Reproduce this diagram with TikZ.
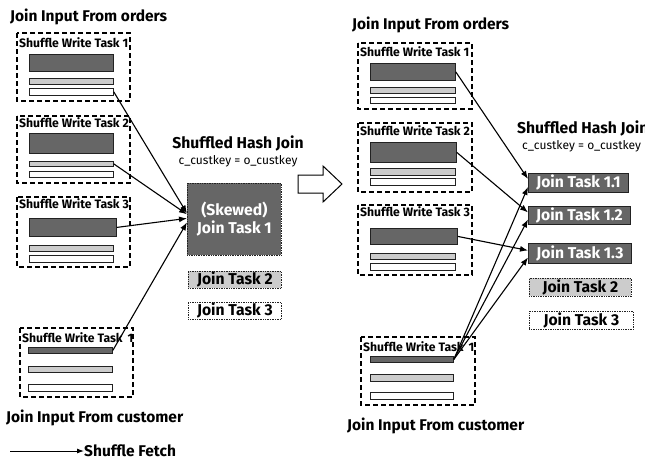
\documentclass[tikz,border=0pt]{standalone}
\usepackage{fontspec}
\setmainfont{Fira Sans}
\usetikzlibrary{arrows.meta,calc}
\definecolor{darkbar}{HTML}{666666}
\definecolor{lightbar}{HTML}{CCCCCC}
\definecolor{edge}{HTML}{222222}
\tikzset{
  title/.style={font=\fontsize{15.5}{18}\selectfont\bfseries, inner sep=0pt, anchor=west},
  boxlabel/.style={font=\fontsize{12.2}{14}\selectfont\bfseries, inner sep=0pt, anchor=west},
  taskbox/.style={draw=black, line width=1.4pt, dash pattern=on 5pt off 3pt},
  bar/.style={draw=edge, line width=0.8pt, inner sep=0pt, anchor=north west},
  fetch/.style={-{Latex[length=8pt,width=6pt]}, line width=1.1pt},
  jointask/.style={draw=edge, line width=0.7pt, densely dotted, inner sep=0pt, anchor=north west, font=\fontsize{15.7}{18}\selectfont\bfseries},
  subtask/.style={draw=edge, line width=0.9pt, fill=darkbar, text=white, inner sep=0pt, anchor=north west, font=\fontsize{15.7}{18}\selectfont\bfseries},
  hjtitle/.style={font=\fontsize{15.7}{18}\selectfont\bfseries, inner sep=0pt},
  keytext/.style={font=\fontsize{12}{14}\selectfont, inner sep=0pt},
}
\newcommand{\mkbar}[6]{% name, fill, x1, y1, x2, y2
  \pgfmathsetmacro{\bw}{#5-#3}\pgfmathsetmacro{\bh}{#6-#4}%
  \node[bar, fill=#2, minimum width=\bw pt, minimum height=\bh pt] (#1) at (#3,#4) {};}
\begin{document}
\begin{tikzpicture}[x=1pt,y=-1pt]
\useasboundingbox (0,0) rectangle (645,461);

% ---------------- LEFT PANEL ----------------
\node[title] (lt) at (10,17) {Join Input From orders};

\draw[taskbox] (17,33) rectangle (130,101);
\node[boxlabel] (l1lab) at (19,43) {Shuffle Write Task 1};
\mkbar{l1d}{darkbar}{29}{54}{113}{71}
\mkbar{l1l}{lightbar}{29}{78}{113}{84}
\mkbar{l1w}{white}{29}{88}{113}{95}

\draw[taskbox] (17,116) rectangle (130,183);
\node[boxlabel] (l2lab) at (19,123) {Shuffle Write Task 2};
\mkbar{l2d}{darkbar}{29}{133}{113}{153}
\mkbar{l2l}{lightbar}{29}{161}{113}{166}
\mkbar{l2w}{white}{29}{171}{113}{177}

\draw[taskbox] (17,197) rectangle (130,267);
\node[boxlabel] (l3lab) at (19,204) {Shuffle Write Task 3};
\mkbar{l3d}{darkbar}{29}{218}{116}{236}
\mkbar{l3l}{lightbar}{29}{245}{113}{251}
\mkbar{l3w}{white}{29}{255}{113}{262}

\draw[taskbox] (20,328) rectangle (133,397);
\node[boxlabel] (l4lab) at (22,338) {Shuffle Write Task\hspace{2pt} 1};
\mkbar{l4d}{darkbar}{28}{347}{112}{353}
\mkbar{l4l}{lightbar}{28}{366}{112}{372}
\mkbar{l4w}{white}{28}{384}{112}{391}

\node[title] (lc) at (6,418) {Join Input From customer};

\node[hjtitle] (lshj) at (238,143) {Shuffled Hash Join};
\node[keytext] (lkey) at (238,161) {c\_custkey = o\_custkey};

\node[jointask, fill=darkbar, text=white, minimum width=94pt, minimum height=72pt, align=center] (j1) at (187,183) {(Skewed)\\[0pt]Join Task 1};
\node[jointask, fill=lightbar, minimum width=93pt, minimum height=17pt] (j2) at (188,271) {Join Task 2};
\node[jointask, fill=white, minimum width=93pt, minimum height=17pt] (j3) at (188,302) {Join Task 3};

\draw[fetch] (l1w.east) -- ($(j1.west)+(0,-6)$);
\draw[fetch] (l2l.east) -- ($(j1.west)+(0,-5)$);
\draw[fetch] (l3d.east) -- ($(j1.west)+(0,-1)$);
\draw[fetch] (l4d.east) -- ($(j1.west)+(0,3)$);

% legend
\coordinate (lg0) at (10,451);
\node[title] (lg) at (84,451) {Shuffle Fetch};
\draw[fetch, line width=0.9pt, -{Latex[length=7pt,width=5pt]}] (lg0) -- (lg.west);

% big hollow arrow
\draw[line width=1pt, fill=white] (298,175) -- (323,175) -- (323,166) -- (342,184) -- (323,202) -- (323,193) -- (298,193) -- cycle;

% ---------------- RIGHT PANEL ----------------
\node[title] (rt) at (352,25) {Join Input From orders};

\draw[taskbox] (358,43) rectangle (472,109);
\node[boxlabel] (r1lab) at (360,52) {Shuffle Write Task 1};
\mkbar{r1d}{darkbar}{370}{63}{455}{80}
\mkbar{r1l}{lightbar}{370}{87}{455}{93}
\mkbar{r1w}{white}{370}{97}{455}{103}

\draw[taskbox] (358,123) rectangle (472,192);
\node[boxlabel] (r2lab) at (360,131) {Shuffle Write Task 2};
\mkbar{r2d}{darkbar}{370}{142}{456}{162}
\mkbar{r2l}{lightbar}{370}{168}{455}{175}
\mkbar{r2w}{white}{370}{178}{455}{185}

\draw[taskbox] (358,205) rectangle (472,275);
\node[boxlabel] (r3lab) at (360,212) {Shuffle Write Task 3};
\mkbar{r3d}{darkbar}{370}{228}{457}{244}
\mkbar{r3l}{lightbar}{370}{253}{455}{259}
\mkbar{r3w}{white}{370}{263}{455}{270}

\draw[taskbox] (361,337) rectangle (475,405);
\node[boxlabel] (r4lab) at (363,347) {Shuffle Write Task\hspace{2pt} 1};
\mkbar{r4d}{darkbar}{370}{356}{453}{362}
\mkbar{r4l}{lightbar}{370}{374}{453}{381}
\mkbar{r4w}{white}{370}{392}{453}{399}

\node[title] (rc) at (347,426) {Join Input From customer};

\node[hjtitle, anchor=west] (rshj) at (517,128) {Shuffled Hash Join};
\node[keytext, anchor=west] (rkey) at (522,146) {c\_custkey = o\_custkey};

\node[subtask, minimum width=100pt, minimum height=19pt] (j11) at (528,173) {Join Task 1.1};
\node[subtask, minimum width=102pt, minimum height=18pt] (j12) at (528,206) {Join Task 1.2};
\node[subtask, minimum width=103pt, minimum height=20pt] (j13) at (528,243) {Join Task 1.3};
\node[jointask, fill=lightbar, minimum width=102pt, minimum height=18pt] (rj2) at (529,278) {Join Task 2};
\node[jointask, fill=white, minimum width=104pt, minimum height=18pt] (rj3) at (529,311) {Join Task 3};

\draw[fetch] (r1d.east) -- ($(j11.west)+(0,-4)$);
\draw[fetch] (r2d.east) -- ($(j12.west)+(0,-3)$);
\draw[fetch] (r3d.east) -- ($(j13.west)+(0,-3)$);
\draw[fetch] (r4d.east) -- ($(j11.west)+(0,4)$);
\draw[fetch] (r4d.east) -- ($(j12.west)+(0,4)$);
\draw[fetch] (r4d.east) -- ($(j13.west)+(0,4)$);

\end{tikzpicture}
\end{document}
